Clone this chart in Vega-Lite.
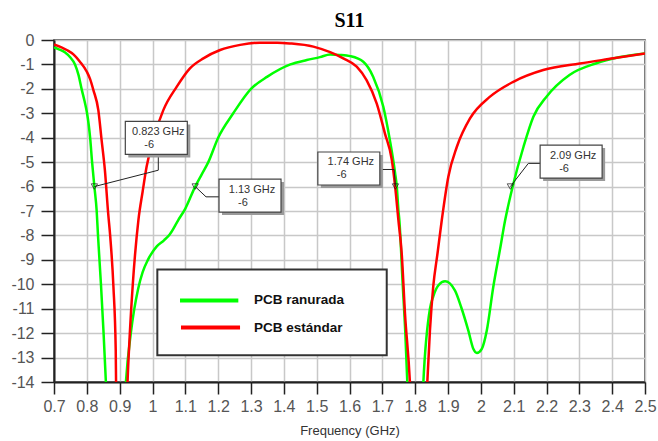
{
  "$schema": "https://vega.github.io/schema/vega-lite/v6.json",
  "width": 591,
  "height": 342,
  "autosize": {"type": "none"},
  "padding": {"left": 54, "top": 40, "right": 13, "bottom": 59},
  "background": "white",
  "title": {"text": "S11", "font": "Liberation Serif", "fontSize": 20, "fontWeight": "bold", "color": "#000000", "anchor": "middle", "offset": 1},
  "config": {
    "view": {"stroke": "#333333", "strokeWidth": 1.5},
    "axis": {"grid": true, "gridColor": "#c8c8c8", "gridWidth": 1.5, "domainColor": "#222222", "domainWidth": 2, "tickColor": "#222222", "tickWidth": 1.5, "labelFont": "Liberation Sans", "labelFontSize": 16, "labelColor": "#555555", "labelOverlap": false, "labelFlush": false, "titleFont": "Liberation Sans", "titleFontSize": 13, "titleFontWeight": "normal", "titleColor": "#333333"}
  },
  "datasets": {
    "s11": [
      {"series": "PCB ranurada", "freq": 0.700, "db": -0.30},
      {"series": "PCB ranurada", "freq": 0.715, "db": -0.38},
      {"series": "PCB ranurada", "freq": 0.733, "db": -0.50},
      {"series": "PCB ranurada", "freq": 0.750, "db": -0.72},
      {"series": "PCB ranurada", "freq": 0.764, "db": -1.0},
      {"series": "PCB ranurada", "freq": 0.775, "db": -1.45},
      {"series": "PCB ranurada", "freq": 0.784, "db": -2.0},
      {"series": "PCB ranurada", "freq": 0.793, "db": -2.5},
      {"series": "PCB ranurada", "freq": 0.800, "db": -2.95},
      {"series": "PCB ranurada", "freq": 0.806, "db": -3.5},
      {"series": "PCB ranurada", "freq": 0.810, "db": -4.0},
      {"series": "PCB ranurada", "freq": 0.816, "db": -5.0},
      {"series": "PCB ranurada", "freq": 0.823, "db": -6.0},
      {"series": "PCB ranurada", "freq": 0.830, "db": -7.0},
      {"series": "PCB ranurada", "freq": 0.834, "db": -8.0},
      {"series": "PCB ranurada", "freq": 0.843, "db": -10.0},
      {"series": "PCB ranurada", "freq": 0.851, "db": -12.0},
      {"series": "PCB ranurada", "freq": 0.858, "db": -14.0},
      {"series": "PCB ranurada", "freq": 0.888, "db": -25.0},
      {"series": "PCB ranurada", "freq": 0.919, "db": -14.0},
      {"series": "PCB ranurada", "freq": 0.934, "db": -12.0},
      {"series": "PCB ranurada", "freq": 0.956, "db": -10.2},
      {"series": "PCB ranurada", "freq": 0.970, "db": -9.5},
      {"series": "PCB ranurada", "freq": 0.986, "db": -9.0},
      {"series": "PCB ranurada", "freq": 1.013, "db": -8.45},
      {"series": "PCB ranurada", "freq": 1.035, "db": -8.2},
      {"series": "PCB ranurada", "freq": 1.053, "db": -7.95},
      {"series": "PCB ranurada", "freq": 1.078, "db": -7.38},
      {"series": "PCB ranurada", "freq": 1.100, "db": -6.9},
      {"series": "PCB ranurada", "freq": 1.130, "db": -6.0},
      {"series": "PCB ranurada", "freq": 1.150, "db": -5.5},
      {"series": "PCB ranurada", "freq": 1.170, "db": -5.0},
      {"series": "PCB ranurada", "freq": 1.200, "db": -4.0},
      {"series": "PCB ranurada", "freq": 1.246, "db": -3.0},
      {"series": "PCB ranurada", "freq": 1.300, "db": -2.0},
      {"series": "PCB ranurada", "freq": 1.350, "db": -1.5},
      {"series": "PCB ranurada", "freq": 1.420, "db": -1.0},
      {"series": "PCB ranurada", "freq": 1.470, "db": -0.82},
      {"series": "PCB ranurada", "freq": 1.510, "db": -0.70},
      {"series": "PCB ranurada", "freq": 1.541, "db": -0.59},
      {"series": "PCB ranurada", "freq": 1.570, "db": -0.61},
      {"series": "PCB ranurada", "freq": 1.602, "db": -0.66},
      {"series": "PCB ranurada", "freq": 1.642, "db": -0.89},
      {"series": "PCB ranurada", "freq": 1.672, "db": -1.50},
      {"series": "PCB ranurada", "freq": 1.703, "db": -2.73},
      {"series": "PCB ranurada", "freq": 1.723, "db": -4.10},
      {"series": "PCB ranurada", "freq": 1.739, "db": -5.46},
      {"series": "PCB ranurada", "freq": 1.744, "db": -6.0},
      {"series": "PCB ranurada", "freq": 1.749, "db": -6.97},
      {"series": "PCB ranurada", "freq": 1.752, "db": -7.4},
      {"series": "PCB ranurada", "freq": 1.762, "db": -10.0},
      {"series": "PCB ranurada", "freq": 1.770, "db": -12.0},
      {"series": "PCB ranurada", "freq": 1.776, "db": -14.0},
      {"series": "PCB ranurada", "freq": 1.800, "db": -25.0},
      {"series": "PCB ranurada", "freq": 1.825, "db": -14.0},
      {"series": "PCB ranurada", "freq": 1.845, "db": -11.0},
      {"series": "PCB ranurada", "freq": 1.855, "db": -10.5},
      {"series": "PCB ranurada", "freq": 1.871, "db": -10.04},
      {"series": "PCB ranurada", "freq": 1.891, "db": -9.88},
      {"series": "PCB ranurada", "freq": 1.921, "db": -10.25},
      {"series": "PCB ranurada", "freq": 1.940, "db": -10.93},
      {"series": "PCB ranurada", "freq": 1.962, "db": -11.9},
      {"series": "PCB ranurada", "freq": 1.977, "db": -12.64},
      {"series": "PCB ranurada", "freq": 1.988, "db": -12.81},
      {"series": "PCB ranurada", "freq": 2.003, "db": -12.64},
      {"series": "PCB ranurada", "freq": 2.018, "db": -11.9},
      {"series": "PCB ranurada", "freq": 2.038, "db": -10.1},
      {"series": "PCB ranurada", "freq": 2.058, "db": -8.6},
      {"series": "PCB ranurada", "freq": 2.074, "db": -7.38},
      {"series": "PCB ranurada", "freq": 2.097, "db": -6.0},
      {"series": "PCB ranurada", "freq": 2.130, "db": -4.37},
      {"series": "PCB ranurada", "freq": 2.160, "db": -3.14},
      {"series": "PCB ranurada", "freq": 2.200, "db": -2.32},
      {"series": "PCB ranurada", "freq": 2.270, "db": -1.43},
      {"series": "PCB ranurada", "freq": 2.350, "db": -0.96},
      {"series": "PCB ranurada", "freq": 2.420, "db": -0.71},
      {"series": "PCB ranurada", "freq": 2.500, "db": -0.55},
      {"series": "PCB estándar", "freq": 0.700, "db": -0.18},
      {"series": "PCB estándar", "freq": 0.739, "db": -0.41},
      {"series": "PCB estándar", "freq": 0.760, "db": -0.60},
      {"series": "PCB estándar", "freq": 0.779, "db": -0.89},
      {"series": "PCB estándar", "freq": 0.800, "db": -1.30},
      {"series": "PCB estándar", "freq": 0.810, "db": -1.60},
      {"series": "PCB estándar", "freq": 0.820, "db": -2.05},
      {"series": "PCB estándar", "freq": 0.835, "db": -2.87},
      {"series": "PCB estándar", "freq": 0.845, "db": -4.1},
      {"series": "PCB estándar", "freq": 0.855, "db": -5.33},
      {"series": "PCB estándar", "freq": 0.865, "db": -7.1},
      {"series": "PCB estándar", "freq": 0.871, "db": -8.0},
      {"series": "PCB estándar", "freq": 0.881, "db": -10.1},
      {"series": "PCB estándar", "freq": 0.888, "db": -12.7},
      {"series": "PCB estándar", "freq": 0.889, "db": -14.0},
      {"series": "PCB estándar", "freq": 0.905, "db": -25.0},
      {"series": "PCB estándar", "freq": 0.924, "db": -14.0},
      {"series": "PCB estándar", "freq": 0.931, "db": -12.0},
      {"series": "PCB estándar", "freq": 0.940, "db": -10.0},
      {"series": "PCB estándar", "freq": 0.957, "db": -7.38},
      {"series": "PCB estándar", "freq": 0.970, "db": -6.2},
      {"series": "PCB estándar", "freq": 0.982, "db": -5.19},
      {"series": "PCB estándar", "freq": 1.008, "db": -3.83},
      {"series": "PCB estándar", "freq": 1.033, "db": -2.87},
      {"series": "PCB estándar", "freq": 1.074, "db": -1.91},
      {"series": "PCB estándar", "freq": 1.114, "db": -1.16},
      {"series": "PCB estándar", "freq": 1.155, "db": -0.75},
      {"series": "PCB estándar", "freq": 1.206, "db": -0.41},
      {"series": "PCB estándar", "freq": 1.267, "db": -0.20},
      {"series": "PCB estándar", "freq": 1.327, "db": -0.11},
      {"series": "PCB estándar", "freq": 1.380, "db": -0.11},
      {"series": "PCB estándar", "freq": 1.419, "db": -0.14},
      {"series": "PCB estándar", "freq": 1.490, "db": -0.27},
      {"series": "PCB estándar", "freq": 1.541, "db": -0.50},
      {"series": "PCB estándar", "freq": 1.581, "db": -0.75},
      {"series": "PCB estándar", "freq": 1.622, "db": -1.09},
      {"series": "PCB estándar", "freq": 1.652, "db": -1.64},
      {"series": "PCB estándar", "freq": 1.683, "db": -2.6},
      {"series": "PCB estándar", "freq": 1.708, "db": -3.83},
      {"series": "PCB estándar", "freq": 1.729, "db": -4.92},
      {"series": "PCB estándar", "freq": 1.739, "db": -6.0},
      {"series": "PCB estándar", "freq": 1.749, "db": -7.38},
      {"series": "PCB estándar", "freq": 1.759, "db": -8.74},
      {"series": "PCB estándar", "freq": 1.769, "db": -11.2},
      {"series": "PCB estándar", "freq": 1.784, "db": -14.0},
      {"series": "PCB estándar", "freq": 1.810, "db": -25.0},
      {"series": "PCB estándar", "freq": 1.837, "db": -14.0},
      {"series": "PCB estándar", "freq": 1.845, "db": -11.89},
      {"series": "PCB estándar", "freq": 1.855, "db": -10.1},
      {"series": "PCB estándar", "freq": 1.868, "db": -8.74},
      {"series": "PCB estándar", "freq": 1.881, "db": -7.38},
      {"series": "PCB estándar", "freq": 1.901, "db": -5.6},
      {"series": "PCB estándar", "freq": 1.927, "db": -4.37},
      {"series": "PCB estándar", "freq": 1.967, "db": -3.21},
      {"series": "PCB estándar", "freq": 2.028, "db": -2.32},
      {"series": "PCB estándar", "freq": 2.099, "db": -1.71},
      {"series": "PCB estándar", "freq": 2.190, "db": -1.23},
      {"series": "PCB estándar", "freq": 2.302, "db": -0.96},
      {"series": "PCB estándar", "freq": 2.404, "db": -0.75},
      {"series": "PCB estándar", "freq": 2.500, "db": -0.55}
    ],
    "markers": [
      {"freq": 0.823, "db": -6},
      {"freq": 1.13, "db": -6},
      {"freq": 1.74, "db": -6},
      {"freq": 2.09, "db": -6}
    ],
    "labels": [
      {"freq": 1.0116, "db": -4.01, "label": "0.823 GHz", "value": "-6"},
      {"freq": 1.297, "db": -6.37, "label": "1.13 GHz", "value": "-6"},
      {"freq": 1.598, "db": -5.26, "label": "1.74 GHz", "value": "-6"},
      {"freq": 2.275, "db": -4.975, "label": "2.09 GHz", "value": "-6"}
    ],
    "callouts": [
      {"id": 1, "step": 0, "freq": 0.823, "db": -6.0},
      {"id": 1, "step": 1, "freq": 1.0177, "db": -5.33},
      {"id": 1, "step": 2, "freq": 1.0177, "db": -4.71},
      {"id": 2, "step": 0, "freq": 1.13, "db": -6.0},
      {"id": 2, "step": 1, "freq": 1.163, "db": -6.42},
      {"id": 2, "step": 2, "freq": 1.2056, "db": -6.42},
      {"id": 3, "step": 0, "freq": 1.693, "db": -5.30},
      {"id": 3, "step": 1, "freq": 1.736, "db": -5.30},
      {"id": 3, "step": 2, "freq": 1.74, "db": -6.0},
      {"id": 4, "step": 0, "freq": 2.09, "db": -6.0},
      {"id": 4, "step": 1, "freq": 2.1447, "db": -5.05},
      {"id": 4, "step": 2, "freq": 2.1824, "db": -5.05}
    ],
    "legendBox": [
      {"freq": 1.0147, "freq2": 1.7134, "db": -9.39, "db2": -12.90}
    ],
    "legendLines": [
      {"series": "PCB ranurada", "freq": 1.0838, "freq2": 1.2614, "db": -10.66},
      {"series": "PCB estándar", "freq": 1.0868, "freq2": 1.2666, "db": -11.77}
    ],
    "legendLabels": [
      {"series": "PCB ranurada", "freq": 1.3092, "db": -10.66},
      {"series": "PCB estándar", "freq": 1.3092, "db": -11.77}
    ]
  },
  "encoding": {
    "x": {"field": "freq", "type": "quantitative", "scale": {"domain": [0.7, 2.5], "nice": false, "zero": false},
      "axis": {"values": [0.7, 0.8, 0.9, 1, 1.1, 1.2, 1.3, 1.4, 1.5, 1.6, 1.7, 1.8, 1.9, 2, 2.1, 2.2, 2.3, 2.4, 2.5], "labelExpr": "'' + datum.value", "tickSize": 12, "labelPadding": 4, "title": "Frequency (GHz)", "titlePadding": 10}},
    "y": {"field": "db", "type": "quantitative", "scale": {"domain": [-14, 0], "nice": false, "zero": false},
      "axis": {"values": [-14, -13, -12, -11, -10, -9, -8, -7, -6, -5, -4, -3, -2, -1, 0], "labelExpr": "'' + datum.value", "tickSize": 13, "labelPadding": 7, "title": null}}
  },
  "layer": [
    {
      "data": {"name": "s11"},
      "mark": {"type": "line", "clip": true, "strokeWidth": 2.5, "interpolate": "monotone"},
      "encoding": {
        "color": {"field": "series", "type": "nominal", "scale": {"domain": ["PCB estándar", "PCB ranurada"], "range": ["#ff0000", "#00ff00"]}, "legend": null}
      }
    },
    {
      "data": {"name": "callouts"},
      "mark": {"type": "line", "color": "#222222", "strokeWidth": 1, "interpolate": "linear"},
      "encoding": {"detail": {"field": "id"}, "order": {"field": "step"}}
    },
    {
      "data": {"name": "labels"},
      "mark": {"type": "rect", "width": 62, "height": 33, "color": "#9a9a9a", "xOffset": 3, "yOffset": 3}
    },
    {
      "data": {"name": "labels"},
      "mark": {"type": "rect", "width": 62, "height": 33, "fill": "#ffffff", "stroke": "#444444", "strokeWidth": 1.2}
    },
    {
      "data": {"name": "labels"},
      "mark": {"type": "text", "font": "Liberation Sans", "fontSize": 11, "color": "#333333", "align": "center", "baseline": "middle", "dx": 2, "dy": -6},
      "encoding": {"text": {"field": "label"}}
    },
    {
      "data": {"name": "labels"},
      "mark": {"type": "text", "font": "Liberation Sans", "fontSize": 11, "color": "#333333", "align": "left", "baseline": "middle", "dx": -12, "dy": 7},
      "encoding": {"text": {"field": "value"}}
    },
    {
      "data": {"name": "markers"},
      "mark": {"type": "point", "shape": "triangle-down", "size": 40, "filled": false, "color": "#111111", "strokeWidth": 1}
    },
    {
      "data": {"name": "legendBox"},
      "mark": {"type": "rect", "fill": "#ffffff", "stroke": "#333333", "strokeWidth": 2},
      "encoding": {"x2": {"field": "freq2"}, "y2": {"field": "db2"}}
    },
    {
      "data": {"name": "legendLines"},
      "mark": {"type": "rule", "strokeWidth": 4},
      "encoding": {"x2": {"field": "freq2"}, "color": {"field": "series", "type": "nominal", "legend": null}}
    },
    {
      "data": {"name": "legendLabels"},
      "mark": {"type": "text", "font": "Liberation Sans", "fontSize": 13.5, "fontWeight": "bold", "color": "#111111", "align": "left", "baseline": "middle"},
      "encoding": {"text": {"field": "series"}}
    }
  ]
}
